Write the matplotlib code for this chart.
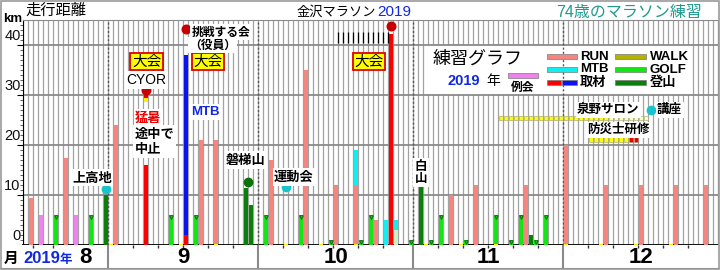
import matplotlib
matplotlib.use('Agg')
import matplotlib.pyplot as plt
from matplotlib.patches import Rectangle
import datetime as dt

plt.rcParams['font.family'] = ['Liberation Sans', 'Noto Sans CJK JP', 'DejaVu Sans']
JP = ['Noto Sans CJK JP', 'DejaVu Sans']
LAT = ['Liberation Sans', 'Noto Sans CJK JP']

# ---------------- data ----------------
START = dt.date(2019, 8, 15)
END = dt.date(2019, 12, 31)
month_starts = ['09-01', '10-01', '11-01', '12-01']
month_labels = ['8', '9', '10', '11', '12']

run_dates = ['08-16', '08-23', '09-02', '09-19', '09-22', '10-03', '10-10', '10-16', '10-20',
             '10-24', '11-08', '11-13', '11-23', '12-01', '12-09', '12-16', '12-23', '12-29']
run_km = [9.5, 17.5, 24, 21, 21, 17, 35, 12, 12, 5, 10, 12, 12, 20, 12, 12, 12, 12]

reikai_dates = ['08-18', '08-25']
reikai_km = [6, 6]

golf_dates = ['08-21', '08-28', '09-13', '09-18', '10-02', '10-09', '10-15', '10-21', '10-23',
              '10-31', '11-04', '11-06', '11-11', '11-17', '11-20', '11-22', '11-25', '11-27']
golf_km = [6, 6, 6, 6, 6, 6, 1, 1, 6, 1, 1, 6, 1, 6, 1, 6, 1, 6]

mount_dates = ['08-31', '09-28', '09-29', '11-02', '11-24']
mount_km = [10, 11.5, 8, 12, 2]

other_dates = ['10-28']
other_km = [3]

mtb_dates = ['10-20', '10-26', '10-28']
mtb_km = [7, 5, 2]

red_dates = ['09-08', '09-16', '10-27']
red_km = [16, 2, 42.2]

blue_dates = ['09-16']
blue_km = [36]

walk_dates = ['09-01', '09-15', '09-22', '10-06', '10-13', '10-20', '11-03', '11-10', '11-17',
              '12-01', '12-08', '12-15', '12-22']
walk_km = [0.3] * len(walk_dates)

# CYOR stopped-race marker segments (date, from km, to km, colour)
stub_dates = ['09-08', '09-08']
stub_lo = [28.7, 29.5]
stub_hi = [29.5, 30.0]
stub_col = ['#ffee00', '#ee0000']

red_dot_dates = ['09-08', '09-16', '10-27']
red_dot_km = [31.1, 43.2, 43.8]
cyan_dot_dates = ['08-31', '10-06', '12-18']
cyan_dot_km = [11.2, 11.7, 27.1]
bandai_days = ['09-28', '09-29']
bandai_km = 12.7

salon_bright = ('11-18', '12-09')
salon_pale = ('12-10', '12-17')
salon_km = (25.0, 25.8)
bousai_yellow = ('12-06', '12-13')
bousai_red = ('12-14', '12-15')
bousai_km = (20.6, 21.8)

C_RUN = '#f4857f'
C_PINK = '#ee82ee'
C_GOLF = '#14e614'
C_MOUNT = '#0a800a'
C_MTB = '#10eef0'
C_RED = '#ff0000'
C_BLUE = '#0a14f0'
C_WALK = '#ffee00'
C_OTHER = '#c8f2c8'


def d(s):
    m, dd = map(int, s.split('-'))
    return (dt.date(2019, m, dd) - START).days


NDAYS = (END - START).days + 1

W, H = 720, 270
fig = plt.figure(figsize=(W / 100, H / 100), dpi=100)
X0, X1, Y0, Y1 = 23.3, 718.3, 245, 20
ax = fig.add_axes([X0 / W, 1 - Y0 / H, (X1 - X0) / W, (Y0 - Y1) / H])
ax.set_xlim(0, NDAYS)
ax.set_ylim(0, 45)


def T(xp, yp, s, **kw):
    return fig.text(xp / W, 1 - yp / H, s, **kw)


# grid
ax.vlines(range(NDAYS + 1), 0, 45, color='#a2a2a2', lw=0.9, zorder=1)
ax.hlines([10, 20, 30, 40], 0, NDAYS, color='#8a8a8a', lw=1.3, zorder=2.5)
ax.vlines([d(m) for m in month_starts], 0, 45, color='#555555', lw=1.0,
          linestyles=(0, (1.5, 1.5)), zorder=2.6)

# white legend box
ax.add_patch(Rectangle((80.3, 30), 53, 10, fc='white', ec='none', zorder=2))

BW = 0.86


def bars(dates, km, color, bottom=None, z=3):
    xs = [d(s) + 0.5 for s in dates]
    b = bottom if bottom is not None else [0] * len(km)
    ax.bar(xs, km, bottom=b, width=BW, color=color, lw=0, zorder=z)


bars(run_dates, run_km, C_RUN)
bars(reikai_dates, reikai_km, C_PINK)
bars(golf_dates, golf_km, C_GOLF)
ax.plot([d(s) + 0.5 for s in golf_dates], [k - 0.35 for k in golf_km], ls='none',
        marker='v', ms=2.6, mfc='none', mec='#157015', mew=0.8, zorder=3.5)
bars(mount_dates, mount_km, C_MOUNT)
bars(other_dates, other_km, C_OTHER)
# stack MTB on top of same-day run / other
base = {}
for s, k in zip(run_dates, run_km):
    base[s] = base.get(s, 0) + k
for s, k in zip(other_dates, other_km):
    base[s] = base.get(s, 0) + k
bars(mtb_dates, mtb_km, C_MTB, bottom=[base.get(s, 0) for s in mtb_dates])
bars(red_dates, red_km, C_RED)
rb = dict(zip(red_dates, red_km))
bars(blue_dates, blue_km, C_BLUE, bottom=[rb.get(s, 0) for s in blue_dates])
bars(walk_dates, walk_km, C_WALK, z=4)
for s, lo, hi, c in zip(stub_dates, stub_lo, stub_hi, stub_col):
    ax.bar(d(s) + 0.5, hi - lo, bottom=lo, width=BW, color=c, lw=0, zorder=3)

# range squares
def squares(rng, km, color):
    a, b = d(rng[0]), d(rng[1])
    xs = [i + 0.5 for i in range(a, b + 1)]
    ax.bar(xs, km[1] - km[0], bottom=km[0], width=0.9, color=color,
           ec='#9a9a7a', lw=0.4, zorder=3)

squares(salon_bright, salon_km, '#ffff00')
squares(salon_pale, salon_km, '#ffffc0')
squares(bousai_yellow, bousai_km, '#ffff00')
squares(bousai_red, bousai_km, '#ee0000')

# dots
ax.plot([d(s) + 0.5 for s in red_dot_dates], red_dot_km, 'o', color='#c80000', ms=6.2, zorder=5)
ax.plot([d(s) + 0.5 for s in cyan_dot_dates], cyan_dot_km, 'o', color='#18c4cc', ms=6.0, zorder=5)
ax.plot([sum(d(s) + 0.5 for s in bandai_days) / 2], [bandai_km], 'o', color='#0a700a', ms=6.0, zorder=5)

# short black tick rows
ax.vlines(range(22, 29), 34.4, 35.0, color='black', lw=0.9, zorder=4)
ax.vlines(range(23, 28), 23.4, 24.0, color='black', lw=0.9, zorder=4)
ax.vlines(range(63, 74), 40.4, 42.6, color='black', lw=0.9, zorder=4)

# axes styling
for sp in ['top', 'right']:
    ax.spines[sp].set_color('#8a8a8a')
ax.spines['left'].set_color('black')
ax.spines['bottom'].set_color('black')
ax.spines['bottom'].set_linewidth(1.3)
ax.set_xticks([])
ax.set_yticks([0, 10, 20, 30, 40])
ax.set_yticklabels([])
ax.set_yticks(range(0, 45), minor=True)
ax.tick_params(axis='y', which='major', length=4, direction='out', color='black')
ax.tick_params(axis='y', which='minor', length=2.5, direction='out', color='#444')
for v in [0, 10, 20, 30, 40]:
    ax.text(-0.55, v + 0.35, str(v), ha='right', va='bottom', fontsize=10.5,
            family=LAT, color='#111', transform=ax.transData, clip_on=False)

# bottom band
bax = fig.add_axes([0, 2 / H, 1, 23 / H])
bax.set_xlim(-X0 / 5, (W - X0) / 5)
bax.set_ylim(0, 1)
bax.set_xticks([]); bax.set_yticks([])
for sp in ['top', 'left', 'right']:
    bax.spines[sp].set_visible(False)
bax.spines['bottom'].set_color('#8a8a8a')
bax.vlines([d(m) for m in month_starts], 0, 1, color='#8a8a8a', lw=1.5)
mstarts = [d(m) for m in month_starts] + [NDAYS]
ticks = []
for a, b in zip(mstarts[:-1], mstarts[1:]):
    ticks += [a + 5 * n for n in range(1, 6) if a + 5 * n < b - 1]
ticks += [2, 6]
bax.vlines(ticks, 0.86, 1.0, color='#333', lw=1.0)
centers = [12.5] + [(a + b) / 2 for a, b in zip(mstarts[:-1], mstarts[1:])]
for c, lab in zip(centers, month_labels):
    bax.text(c, 0.47, lab, ha='center', va='center', fontsize=16, fontweight='bold',
             family=LAT, color='black')
T(10.5, 257.5, '月', ha='center', va='center', fontsize=10.5, fontweight='bold', family=JP)
T(23, 258.5, '2019', ha='left', va='center', fontsize=12, fontweight='bold', family=LAT, color='#1028e0')
T(60, 259, '年', ha='left', va='center', fontsize=9, fontweight='bold', family=JP, color='#1028e0')

# titles
T(25, 10.5, '走行距離', ha='left', va='center', fontsize=11, family=JP)
T(3, 19, 'km', ha='left', va='center', fontsize=9.5, fontweight='bold', family=LAT)
T(376, 12, '金沢マラソン', ha='right', va='center', fontsize=9.5, family=JP)
T(377, 12.5, '2019', ha='left', va='center', fontsize=11, family=LAT, color='#1028e0')
T(702, 12, '74歳のマラソン練習', ha='right', va='center', fontsize=11.5, family=LAT, color='#1f9a8c')

# legend box content
T(433, 59, '練習グラフ', ha='left', va='center', fontsize=13, family=JP)
T(447, 81, '2019', ha='left', va='center', fontsize=10.5, fontweight='bold', family=LAT, color='#1028e0')
T(486, 81.5, '年', ha='left', va='center', fontsize=10, family=JP)
T(523, 87, '例会', ha='center', va='center', fontsize=8.5, fontweight='bold', family=JP)


def sw(x0p, x1p, y0p, y1p, color):
    fig.add_artist(Rectangle((x0p / W, 1 - y1p / H), (x1p - x0p) / W, (y1p - y0p) / H,
                             transform=fig.transFigure, fc=color, ec='#7a7a7a', lw=0.5))


sw(508, 538, 73, 78, C_PINK)
sw(547, 577, 54, 59, C_RUN)
sw(547, 577, 66.5, 71.5, C_MTB)
sw(547, 561, 80, 85, C_RED)
sw(562, 577, 80, 85, C_BLUE)
sw(615, 646, 54, 59, '#b4b400')
sw(615, 646, 67, 72, C_GOLF)
sw(615, 646, 80, 85, C_MOUNT)
for yp, s in [(57, 'RUN'), (69.5, 'MTB'), (83, '取材')]:
    T(580, yp, s, ha='left', va='center', fontsize=9.5, fontweight='bold')
for yp, s in [(57, 'WALK'), (70, 'GOLF'), (83, '登山')]:
    T(650, yp, s, ha='left', va='center', fontsize=9.5, fontweight='bold')

# annotations
WB = dict(boxstyle='square,pad=0.12', fc='white', ec='none')
for xp in [146.5, 208, 369]:
    T(xp, 61.5, '大会', ha='center', va='center', fontsize=10.5, family=JP,
      bbox=dict(boxstyle='square,pad=0.1', fc='#ffff00', ec='#e00000', lw=1.3))
T(146.3, 80, 'CYOR', ha='center', va='center', fontsize=10, family=LAT, bbox=WB)
T(148.5, 117.5, '猛暑', ha='center', va='center', fontsize=9.5, fontweight='bold',
  family=JP, color='#ee0000', bbox=WB)
T(135, 141.5, '途中で\n中止', ha='left', va='center', fontsize=9.5, fontweight='bold',
  family=JP, linespacing=1.1, bbox=WB)
T(191, 112, 'MTB', ha='left', va='center', fontsize=9.5, fontweight='bold', family=LAT,
  color='#1028e0', bbox=WB)
T(191.5, 32, '挑戦する会', ha='left', va='center', fontsize=8.5, fontweight='bold', family=JP, bbox=WB)
T(189, 45, '（役員）', ha='left', va='center', fontsize=8.5, fontweight='bold', family=JP, bbox=WB)
T(92, 177.5, '上高地', ha='center', va='center', fontsize=9.5, fontweight='bold', family=JP, bbox=WB)
T(246, 160, '磐梯山', ha='center', va='center', fontsize=9.5, fontweight='bold', family=JP, bbox=WB)
T(294, 177, '運動会', ha='center', va='center', fontsize=9.5, fontweight='bold', family=JP, bbox=WB)
T(421, 172.5, '白\n山', ha='center', va='center', fontsize=9, fontweight='bold', family=JP,
  linespacing=0.95, bbox=WB)
T(577, 109.5, '泉野サロン', ha='left', va='center', fontsize=9, fontweight='bold', family=JP, bbox=WB)
T(657, 109.5, '講座', ha='left', va='center', fontsize=9, fontweight='bold', family=JP, bbox=WB)
T(587, 129.5, '防災士研修', ha='left', va='center', fontsize=9, fontweight='bold', family=JP, bbox=WB)

# outer frame
fig.add_artist(Rectangle((0.001, 0.002), 0.997, 0.995, transform=fig.transFigure,
                         fill=False, ec='#9a9a9a', lw=1.2))

fig.savefig('out.png', dpi=100)
